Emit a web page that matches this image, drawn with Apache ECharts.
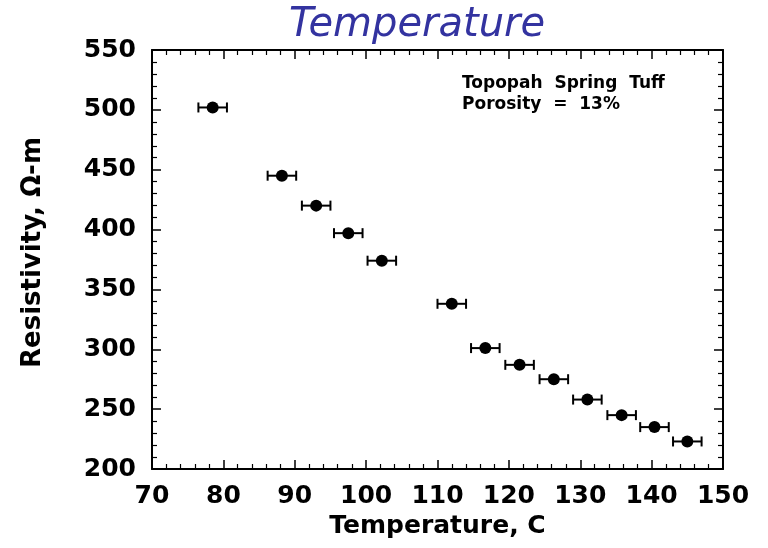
<!DOCTYPE html>
<html><head><meta charset="utf-8">
<script src="https://cdn.jsdelivr.net/npm/echarts@6/dist/echarts.min.js"></script>
<style>html,body{margin:0;padding:0;background:#fff}#c{width:768px;height:548px}</style>
</head><body><div id="c"></div>
<script>
var temperature = [78.5, 88.2, 93.0, 97.5, 102.2, 112.0, 116.7, 121.5, 126.3, 131.0, 135.8, 140.4, 145.0];
var resistivity = [502, 445, 420, 397, 374, 338, 301, 287, 275, 258, 245, 235, 223];
var tempError = [2, 2, 2, 2, 2, 2, 2, 2, 2, 2, 2, 2, 2];
var xTicks = [70, 80, 90, 100, 110, 120, 130, 140, 150];
var yTicks = [200, 250, 300, 350, 400, 450, 500, 550];

var pts = temperature.map(function(t, i){ return [t, resistivity[i]]; });
var errs = temperature.map(function(t, i){ return [t - tempError[i], t + tempError[i], resistivity[i]]; });

var FONT = 'DejaVu Sans, Verdana, sans-serif';
var chart = echarts.init(document.getElementById('c'));
var labelFont = {fontFamily:FONT, fontWeight:'bold', fontSize:25, color:'#000'};
function xAx(pos, showLabel){
  return {type:'value', position:pos, min:xTicks[0], max:xTicks[xTicks.length-1], interval:10,
    axisLine:{show:true, onZero:false, lineStyle:{color:'#000', width:2}},
    axisTick:{show:true, inside:true, length:9, lineStyle:{color:'#000', width:1.5}},
    minorTick:{show:true, splitNumber:5, length:5, lineStyle:{color:'#000', width:1.2}},
    splitLine:{show:false},
    axisLabel:Object.assign({show:showLabel, margin:15}, labelFont),
    name: showLabel ? 'Temperature, C' : '', nameLocation:'middle', nameGap:44,
    nameTextStyle:{fontFamily:FONT, fontWeight:'bold', fontSize:25, color:'#000'}};
}
function yAx(pos, showLabel){
  return {type:'value', position:pos, min:yTicks[0], max:yTicks[yTicks.length-1], interval:50,
    axisLine:{show:true, onZero:false, lineStyle:{color:'#000', width:2}},
    axisTick:{show:true, inside:true, length:9, lineStyle:{color:'#000', width:1.5}},
    minorTick:{show:true, splitNumber:5, length:5, lineStyle:{color:'#000', width:1.2}},
    splitLine:{show:false},
    axisLabel:Object.assign({show:showLabel, margin:16}, labelFont),
    name: showLabel ? 'Resistivity, \u03A9-m' : '', nameLocation:'middle', nameGap:106,
    nameTextStyle:{fontFamily:FONT, fontWeight:'bold', fontSize:26, color:'#000', padding:[0,0,0,14]}};
}
chart.setOption({
  animation:false,
  backgroundColor:'#fff',
  title:{text:'Temperature', left:412, textAlign:'center', top:1,
    textStyle:{fontFamily:FONT, fontStyle:'italic', fontWeight:'normal', fontSize:40, color:'#3333a0'}},
  grid:{left:152, right:45, top:50, bottom:79},
  xAxis:[xAx('bottom', true), xAx('top', false)],
  yAxis:[yAx('left', true), yAx('right', false)],
  graphic:[{type:'text', left:462, top:73, style:{text:'Topopah  Spring  Tuff\nPorosity  =  13%', fontFamily:FONT, fontWeight:'bold', fontSize:17, lineHeight:21, fill:'#000'}}],
  series:[
    {type:'custom', xAxisIndex:0, yAxisIndex:0, data:errs,
     renderItem:function(params, api){
       var a = api.coord([api.value(0), api.value(2)]);
       var b = api.coord([api.value(1), api.value(2)]);
       var st = {stroke:'#000', lineWidth:2};
       return {type:'group', children:[
         {type:'line', shape:{x1:a[0], y1:a[1], x2:b[0], y2:b[1]}, style:st},
         {type:'line', shape:{x1:a[0], y1:a[1]-5, x2:a[0], y2:a[1]+5}, style:st},
         {type:'line', shape:{x1:b[0], y1:b[1]-5, x2:b[0], y2:b[1]+5}, style:st}
       ]};
     }, z:2},
    {type:'scatter', xAxisIndex:0, yAxisIndex:0, data:pts, symbol:'circle', symbolSize:12,
     itemStyle:{color:'#000', opacity:1}, z:3}
  ]
});
</script></body></html>
